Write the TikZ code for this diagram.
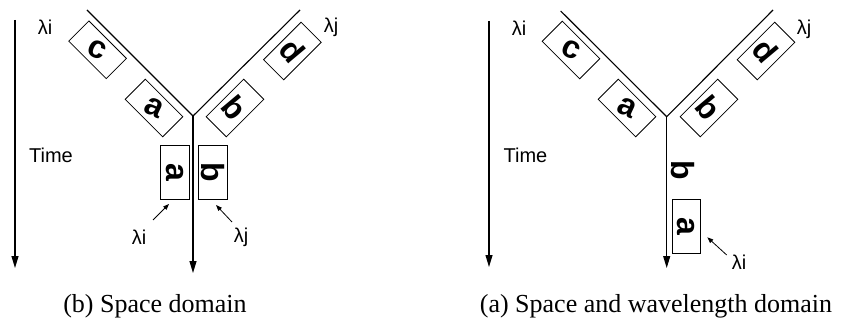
\documentclass[tikz,border=0pt]{standalone}
\usepackage{fontspec}
\setmainfont{Liberation Sans}
\newfontfamily\capfont{Liberation Serif}
\usetikzlibrary{arrows.meta}
\begin{document}
\begin{tikzpicture}[x=1pt,y=-1pt,
  ln/.style={line width=1.1pt},
  bigtip/.style={-{Triangle[length=12pt,width=7pt]}},
  smalltip/.style={line width=0.8pt,-{Triangle[length=6pt,width=4.5pt]}},
  dbox/.style={draw,line width=0.8pt,minimum width=53pt,minimum height=28.5pt,inner sep=0pt},
  vbox/.style={draw,line width=0.8pt,minimum width=28.5pt,minimum height=54pt,inner sep=0pt},
  lettr/.style={font=\fontsize{32}{32}\selectfont\bfseries,inner sep=0pt},
  lab/.style={font=\fontsize{20}{20}\selectfont,inner sep=0pt},
  capt/.style={font=\capfont\fontsize{26}{26}\selectfont,inner sep=0pt}
]
\useasboundingbox (0,0) rectangle (858,326);

% ---------- left panel (b) ----------
\coordinate (TA1) at (15,20);
\coordinate (TB1) at (15,268);
\draw[ln,bigtip] (TA1) -- (TB1);
\node[lab] (li1) at (45,27) {λi};
\node[lab] (lj1) at (331,27) {λj};
\node[lab] (time1) at (51,155) {Time};

\coordinate (J1) at (193,116);
\coordinate (L1) at (87,10);
\coordinate (R1) at (300,10);
\coordinate (B1) at (193,273);
\draw[ln] (L1) -- (J1) -- (R1);
\draw[ln,bigtip] (J1) -- (B1);

\node[dbox,rotate=-45] (c1box) at (97.6,49.8) {};
\node[lettr,rotate=-25] (c1) at (c1box) {c};
\node[dbox,rotate=-45] (a1box) at (154,108) {};
\node[lettr,rotate=-25] (a1) at (a1box) {a};
\node[dbox,rotate=45] (b1box) at (235,108) {};
\node[lettr,rotate=-50] (b1) at (b1box) {b};
\node[dbox,rotate=45] (d1box) at (292.4,51) {};
\node[lettr,rotate=-50] (d1) at (d1box) {d};

\node[vbox] (va1box) at (175,172) {};
\node[lettr,rotate=-90] (va1) at (va1box) {a};
\node[vbox] (vb1box) at (212.8,172) {};
\node[lettr,rotate=-90] (vb1) at (vb1box) {b};

\node[lab] (sli1) at (139,237) {λi};
\node[lab] (slj1) at (241,237) {λj};
\coordinate (ai1s) at (153,220);
\coordinate (ai1e) at (169,204);
\coordinate (aj1s) at (232,222);
\coordinate (aj1e) at (216,205);
\draw[smalltip] (ai1s) -- (ai1e);
\draw[smalltip] (aj1s) -- (aj1e);

\node[capt] (cap1) at (155,306) {(b) Space domain};

% ---------- right panel (a) ----------
\coordinate (TA2) at (489,21);
\coordinate (TB2) at (489,267);
\draw[ln,bigtip] (TA2) -- (TB2);
\node[lab] (li2) at (519,28) {λi};
\node[lab] (lj2) at (804,29) {λj};
\node[lab] (time2) at (525.5,155) {Time};

\coordinate (J2) at (666.7,116.7);
\coordinate (L2) at (560.7,11);
\coordinate (R2) at (773,10);
\coordinate (B2) at (666.7,268);
\draw[ln] (L2) -- (J2) -- (R2);
\draw[ln,bigtip] (J2) -- (B2);

\node[dbox,rotate=-45] (c2box) at (571,50) {};
\node[lettr,rotate=-25] (c2) at (c2box) {c};
\node[dbox,rotate=-45] (a2box) at (627,108) {};
\node[lettr,rotate=-25] (a2) at (a2box) {a};
\node[dbox,rotate=45] (b2box) at (709,108) {};
\node[lettr,rotate=-50] (b2) at (b2box) {b};
\node[dbox,rotate=45] (d2box) at (766,51) {};
\node[lettr,rotate=-50] (d2) at (d2box) {d};

\node[lettr,rotate=-90] (vb2) at (683,170) {b};
\node[vbox] (va2box) at (686.3,226.7) {};
\node[lettr,rotate=-90] (va2) at (va2box) {a};

\node[lab] (sli2) at (739,262) {λi};
\coordinate (ai2s) at (726.7,255);
\coordinate (ai2e) at (707.3,237.3);
\draw[smalltip] (ai2s) -- (ai2e);

\node[capt] (cap2) at (656,306) {(a) Space and wavelength domain};
\end{tikzpicture}
\end{document}
